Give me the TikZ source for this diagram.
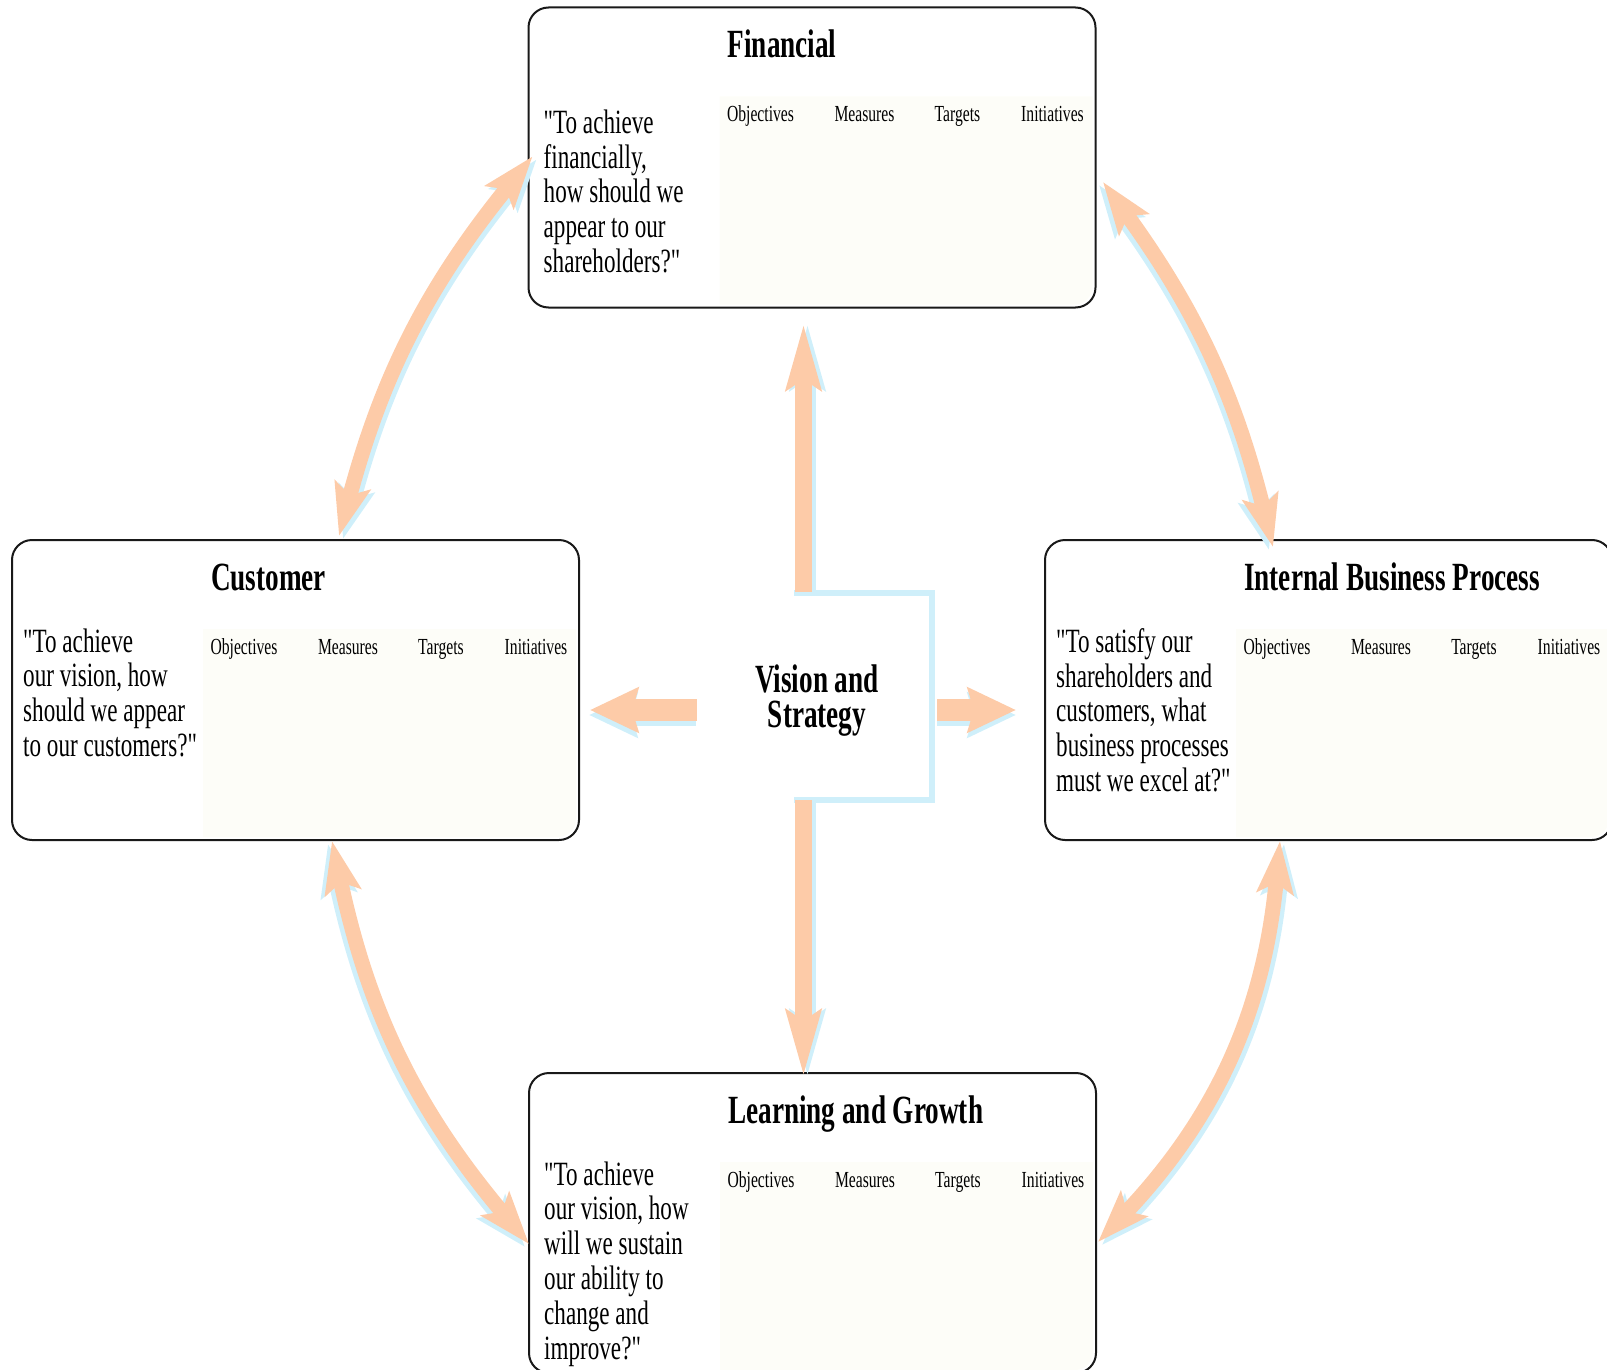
\documentclass[tikz,border=0pt]{standalone}
\usepackage{fontspec}
\setmainfont{Liberation Serif}[FakeStretch=0.68, Ligatures=TeXOff]
\usetikzlibrary{arrows.meta,calc}

\definecolor{peach}{RGB}{253,203,168}
\definecolor{skyb}{RGB}{207,239,250}
\definecolor{ivory}{RGB}{253,253,248}

\tikzset{
  panel/.style={draw=black!90, line width=2pt, rounded corners=20pt,
    minimum width=567pt, minimum height=300pt, inner sep=0pt},
  ttl/.style={font=\fontsize{40}{40}\selectfont\bfseries, anchor=base west, inner sep=0pt},
  quotetxt/.style={font=\fontsize{34}{34.8}\selectfont, anchor=base west, align=left, inner sep=0pt},
  hdr/.style={font=\fontsize{23}{23}\selectfont, anchor=base, inner sep=0pt},
  vertarrow/.style={line width=17pt, -{Stealth[length=65pt,width=34pt,inset=10pt]}},
  horarrow/.style={line width=22pt, -{Stealth[length=48pt,width=44pt,inset=6pt]}},
  curvarrow/.style={line width=15pt,
    {Stealth[length=52pt,width=36pt,inset=10pt]}-{Stealth[length=52pt,width=36pt,inset=10pt]}},
  frame/.style={draw=skyb, line width=6pt},
}

% #1 name, #2 centre, #3 title, #4 quote, #5 quote x, #6 baseline y of the LAST quote line
\newcommand\bscpanel[6]{%
  \node[panel] (#1) at (#2) {};
  \fill[ivory] ($(#1.north west)+(192,90)$) -- ($(#1.north west)+(565,90)$)
     [rounded corners=18pt] -- ($(#1.north west)+(565,298)$) [sharp corners]
     -- ($(#1.north west)+(192,298)$) -- cycle;
  \node[ttl] (#1-t) at ($(#1.north west)+(200,51)$) {#3};
  \node[quotetxt] (#1-q) at ($(#1.north west)+(#5,#6)$) {#4};
  \node[hdr] (#1-h1) at ($(#1.north west)+(233,115)$) {Objectives};
  \node[hdr] (#1-h2) at ($(#1.north west)+(337,115)$) {Measures};
  \node[hdr] (#1-h3) at ($(#1.north west)+(430,115)$) {Targets};
  \node[hdr] (#1-h4) at ($(#1.north west)+(525,115)$) {Initiatives};
}

\newcommand\shadedarrow[5]{% style, from, to, path op, shadow shift
  \draw[#1, draw=skyb, transform canvas={shift={(#5)}}] (#2) #4 (#3);
  \draw[#1, draw=peach] (#2) #4 (#3);
}

\begin{document}
\begin{tikzpicture}[x=1pt, y=-1pt]
\useasboundingbox (0,0) rectangle (1607,1370);
\clip (0,0) rectangle (1607,1370);

\bscpanel{F}{812,157.5}{Financial}{"To achieve\\financially,\\how should we\\appear to our\\shareholders?"}{16}{266}
\bscpanel{C}{295.5,690}{Customer}{"To achieve\\our vision, how\\should we appear\\to our customers?"}{12}{217.5}
\bscpanel{I}{1328.5,690}{Internal Business Process}{"To satisfy our\\shareholders and\\customers, what\\business processes\\must we excel at?"}{12}{252.5}
\bscpanel{L}{812.5,1223}{Learning and Growth}{"To achieve\\our vision, how\\will we sustain\\our ability to\\change and\\improve?"}{16}{287}

% central vision node
\node[font=\fontsize{40}{35}\selectfont\bfseries, align=center, inner sep=0pt,
      minimum width=240pt, minimum height=208pt] (V) at (817,701) {Vision and\\Strategy};
\draw[frame] ($(V.center)+(-23,-108)$) -- ++(138,0) -- ++(0,207) -- ++(-138,0);

% connector end points
\coordinate (up0) at ($(V.north)+(-13.5,-5)$);
\coordinate (up1) at ($(F.south)+(-8.5,15.5)$);
\coordinate (dn0) at ($(V.south)+(-13.5,-5)$);
\coordinate (dn1) at ($(L.north)+(-9,4)$);
\coordinate (lt0) at ($(V.west)+(0,9)$);
\coordinate (lt1) at ($(C.east)+(10,20)$);
\coordinate (rt0) at ($(V.east)+(0,9)$);
\coordinate (rt1) at ($(I.west)+(-28,20)$);

\coordinate (fc1) at ($(F.west)+(5,-1)$);
\coordinate (fc2) at ($(C.north)+(43.5,-3)$);
\coordinate (fi1) at ($(F.east)+(6.5,24.5)$);
\coordinate (fi2) at ($(I.north)+(-55.5,8)$);
\coordinate (cl1) at ($(C.south)+(36.5,0)$);
\coordinate (cl2) at ($(L.west)+(1,21)$);
\coordinate (il1) at ($(I.south)+(-48.5,0)$);
\coordinate (il2) at ($(L.east)+(1,19)$);

% straight arrows from the centre
\shadedarrow{vertarrow}{up0}{up1}{--}{4pt,0pt}
\shadedarrow{vertarrow}{dn0}{dn1}{--}{4pt,0pt}
\shadedarrow{horarrow}{lt0}{lt1}{--}{-1pt,-5pt}
\shadedarrow{horarrow}{rt0}{rt1}{--}{0pt,-5pt}

% curved double arrows
\shadedarrow{curvarrow}{fc1}{fc2}{to[bend right=12]}{4pt,-3pt}
\shadedarrow{curvarrow}{fi1}{fi2}{to[bend left=11]}{-4pt,-3pt}
\shadedarrow{curvarrow}{cl1}{cl2}{to[bend right=14]}{-4pt,-3pt}
\shadedarrow{curvarrow}{il1}{il2}{to[bend left=19]}{4pt,-3pt}
\end{tikzpicture}
\end{document}
